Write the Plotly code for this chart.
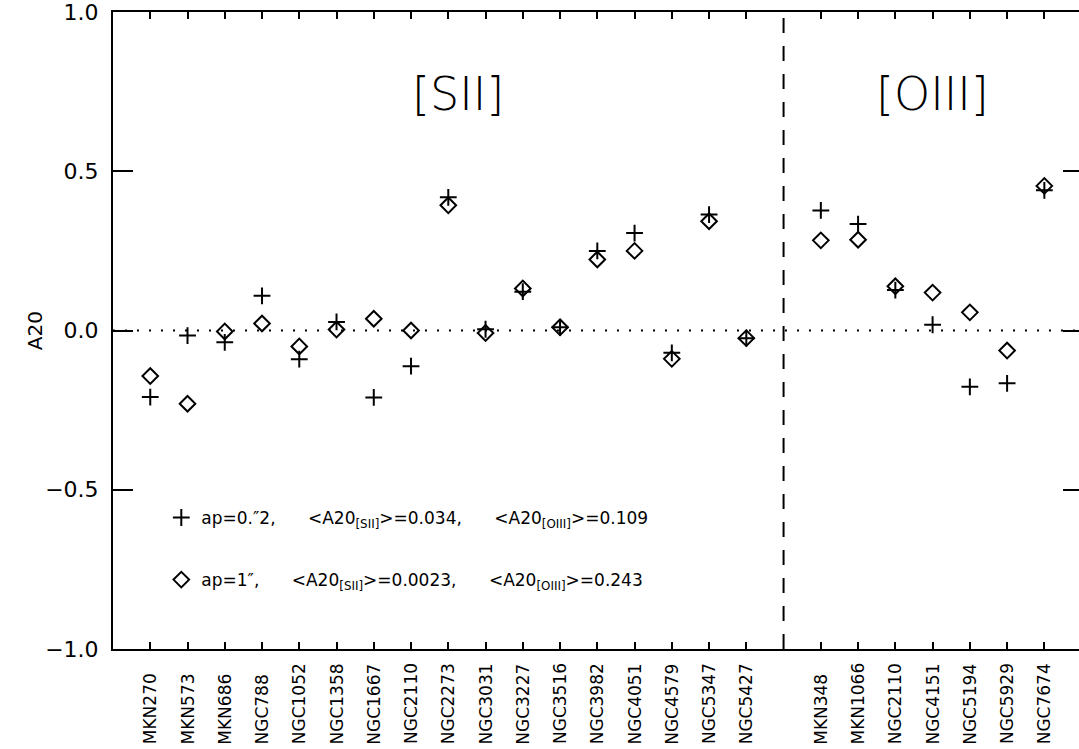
import plotly.graph_objects as go

# ---------------- data ----------------
sii_names = ["MKN270", "MKN573", "MKN686", "NGC788", "NGC1052", "NGC1358", "NGC1667",
             "NGC2110", "NGC2273", "NGC3031", "NGC3227", "NGC3516", "NGC3982", "NGC4051",
             "NGC4579", "NGC5347", "NGC5427"]
sii_ap02 = [-0.209, -0.016, -0.037, 0.109, -0.09, 0.027, -0.21, -0.112, 0.418, 0.004,
            0.122, 0.01, 0.25, 0.306, -0.07, 0.364, -0.024]
sii_ap1 = [-0.143, -0.23, -0.003, 0.022, -0.05, 0.003, 0.037, 0.0, 0.393, -0.008,
           0.132, 0.01, 0.223, 0.25, -0.089, 0.343, -0.024]

oiii_names = ["MKN348", "MKN1066", "NGC2110", "NGC4151", "NGC5194", "NGC5929", "NGC7674"]
oiii_ap02 = [0.377, 0.334, 0.127, 0.018, -0.177, -0.166, 0.44]
oiii_ap1 = [0.283, 0.285, 0.139, 0.119, 0.057, -0.063, 0.454]

y_ticks = [-1.0, -0.5, 0.0, 0.5, 1.0]

label_ap02 = ("ap=0.\u20332,\u00a0\u00a0\u00a0\u00a0\u00a0\u00a0&lt;A20<sub>[SII]</sub>&gt;=0.034,"
              "\u00a0\u00a0\u00a0\u00a0\u00a0\u00a0&lt;A20<sub>[OIII]</sub>&gt;=0.109")
label_ap1 = ("ap=1\u2033,\u00a0\u00a0\u00a0\u00a0\u00a0\u00a0&lt;A20<sub>[SII]</sub>&gt;=0.0023,"
             "\u00a0\u00a0\u00a0\u00a0\u00a0\u00a0&lt;A20<sub>[OIII]</sub>&gt;=0.243")

# ---------------- positions ----------------
sii_x = list(range(len(sii_names)))
sep_x = len(sii_names)                      # dashed separator position
oiii_x = [sep_x + 1 + i for i in range(len(oiii_names))]
all_x = sii_x + oiii_x
all_names = sii_names + oiii_names

FONT = "DejaVu Sans"

fig = go.Figure()
fig.add_trace(go.Scatter(
    x=all_x, y=sii_ap02 + oiii_ap02, mode="markers", name=label_ap02,
    legendgroup="a",
    marker=dict(symbol="cross-thin-open", size=12, color="black",
                line=dict(color="black", width=2)),
))
fig.add_trace(go.Scatter(
    x=all_x, y=sii_ap1 + oiii_ap1, mode="markers", name=label_ap1,
    legendgroup="b",
    marker=dict(symbol="diamond-open", size=12, color="black",
                line=dict(color="black", width=2)),
))
# invisible trace so the right-hand tick axis is drawn
fig.add_trace(go.Scatter(x=[all_x[0]], y=[0], yaxis="y2", mode="markers",
                         marker=dict(opacity=0), showlegend=False, hoverinfo="skip"))

# zero dotted line and separator
fig.add_hline(y=0, line=dict(color="black", width=2, dash="2px,10px"))
fig.add_vline(x=sep_x, line=dict(color="black", width=2, dash="15px,13px"))

# category labels (rotated, bottom aligned)
for xv, nm in zip(all_x, all_names):
    fig.add_annotation(x=xv, xref="x", y=-0.153, yref="paper", text=nm,
                       textangle=-90, showarrow=False, xanchor="center",
                       yanchor="bottom", font=dict(family=FONT, size=17, color="black"))

# big line labels
for txt, xp in (("[SII]", 0.357), ("[OIII]", 0.848)):
    fig.add_annotation(x=xp, y=0.871, xref="paper", yref="paper", text=txt,
                       showarrow=False, xanchor="center", yanchor="middle",
                       font=dict(family=FONT, size=46, color="black", weight=200))
# y title
fig.add_annotation(x=-0.081, y=0.5, xref="paper", yref="paper", text="A20",
                   textangle=-90, showarrow=False, xanchor="center", yanchor="middle",
                   font=dict(family=FONT, size=20, color="black"))

fig.update_layout(
    width=1079, height=749,
    margin=dict(l=113, r=0, t=7, b=100),
    paper_bgcolor="white", plot_bgcolor="white",
    font=dict(family=FONT, color="black"),
    showlegend=True,
    legend=dict(x=0.050, y=0.234, xanchor="left", yanchor="top",
                bgcolor="rgba(0,0,0,0)", font=dict(family=FONT, size=17, color="black"),
                tracegroupgap=37, traceorder="grouped"),
    xaxis=dict(range=[-1, 24.93], tickvals=all_x,
               showticklabels=False, ticks="inside", ticklen=7, tickwidth=2,
               tickcolor="black", showline=True, linecolor="black", linewidth=2,
               mirror="ticks", showgrid=False, zeroline=False),
    yaxis=dict(range=[-1, 1], tickvals=y_ticks, tickformat=".1f", ticks="inside",
               ticklen=20, tickwidth=2, tickcolor="black", showline=True,
               linecolor="black", linewidth=2, showgrid=False, zeroline=False,
               tickfont=dict(family=FONT, size=22, color="black"),
               ticklabelstandoff=8, ticklabeloverflow="allow"),
    yaxis2=dict(range=[-1, 1], overlaying="y", side="right", tickvals=y_ticks,
                ticks="inside", ticklen=16, tickwidth=2, tickcolor="black",
                showline=False, showticklabels=False, showgrid=False, zeroline=False),
)

fig.write_html("out.html", config={"displayModeBar": False},
               post_script="document.body.style.margin='0';document.body.style.overflow='hidden';")
